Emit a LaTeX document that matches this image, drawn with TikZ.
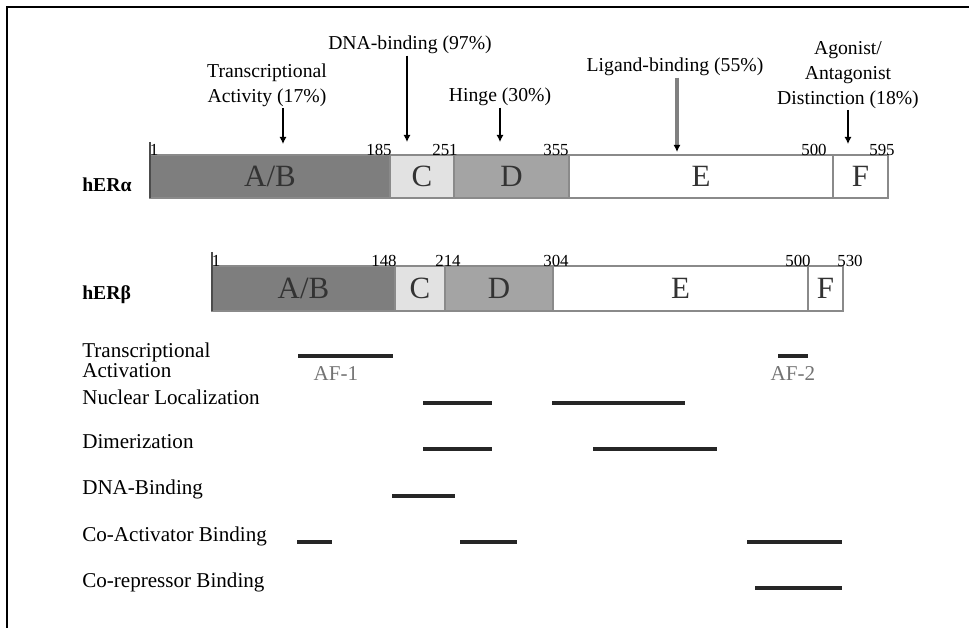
\documentclass[tikz,border=0pt]{standalone}
\usepackage{fontspec}
\setmainfont{Liberation Serif}
\usetikzlibrary{arrows.meta, positioning}

\definecolor{segAB}{HTML}{7E7E7E}
\definecolor{segC}{HTML}{E2E2E2}
\definecolor{segD}{HTML}{A4A4A4}
\definecolor{barEdge}{HTML}{8A8A8A}

\tikzset{
	seg/.style = {draw = barEdge, line width = 1.3pt},
	segText/.style = {font = \fontsize{22}{22}\selectfont, text = black!80},
	resno/.style = {font = \fontsize{12}{12}\selectfont, inner sep = 1pt, anchor = south},
	gene/.style = {font = \bfseries\fontsize{14}{14}\selectfont, anchor = west, inner sep = 0pt},
	note/.style = {font = \fontsize{14}{17.5}\selectfont, align = center, inner sep = 1pt},
	rowText/.style = {font = \fontsize{15}{14}\selectfont, align = left, anchor = west, inner sep = 0pt},
	afText/.style = {font = \fontsize{15}{15}\selectfont, text = black!55, inner sep = 0pt},
	region/.style = {line width = 3.3pt, black!85},
	pointer/.style = {-{Latex[length = 5pt, width = 5pt, color = black]}, line width = 0.8pt},
}

\begin{document}
\begin{tikzpicture}[x = 0.025cm, y = -0.025cm]
	\useasboundingbox (0,0) rectangle (969,628);
	\draw [line width = 1.6pt] (7,628) -- (7,7) -- (969,7);

	% hER alpha
	\node [gene] (alpha) at (82,185) {hERα};
	\foreach \xa/\xb/\col/\nm/\lab in {150/390/segAB/aAB/{A/B}, 390/454/segC/aC/C, 454/569/segD/aD/D, 569/833/white/aE/E, 833/888/white/aF/F}
		\draw [seg, fill = \col] (\xa,155) rectangle node[segText] (\nm) {\lab} (\xb,198);
	\draw [line width = 1.3pt, black!70] (150,142) -- (150,198);
	\foreach \x/\t in {154/1, 379/185, 445/251, 556/355, 814/500, 882/595}
		\node [resno] (na\t) at (\x,157) {\t};

	% domain functions
	\node [note] (actA) at (267,85) {Transcriptional\\Activity (17\%)};
	\coordinate (pAct) at (283,144);
	\draw [pointer] (actA.south -| pAct) -- (pAct);

	\node [note] (dnaA) at (410,45) {DNA-binding (97\%)};
	\coordinate (pDna) at (407,142);
	\draw [pointer] (dnaA.south -| pDna) -- (pDna);

	\node [note] (hingeA) at (500,97) {Hinge (30\%)};
	\coordinate (pHinge) at (500,142);
	\draw [pointer] (hingeA.south -| pHinge) -- (pHinge);

	\node [note] (ligA) at (675,67) {Ligand-binding (55\%)};
	\coordinate (pLig) at (677,152);
	\draw [pointer, line width = 2.2pt, draw = black!50] (ligA.south -| pLig) -- (pLig);

	\node [note] (agoA) at (848,75) {Agonist/\\Antagonist\\Distinction (18\%)};
	\coordinate (pAgo) at (848,144);
	\draw [pointer] (agoA.south -| pAgo) -- (pAgo);

	% hER beta
	\node [gene] (beta) at (82,295) {hERβ};
	\foreach \xa/\xb/\col/\nm/\lab in {212/395/segAB/bAB/{A/B}, 395/445/segC/bC/C, 445/553/segD/bD/D, 553/808/white/bE/E, 808/843/white/bF/F}
		\draw [seg, fill = \col] (\xa,266) rectangle node[segText] (\nm) {\lab} (\xb,311);
	\draw [line width = 1.3pt, black!70] (212,252) -- (212,311);
	\foreach \x/\t in {216/1, 384/148, 448/214, 556/304, 798/500, 850/530}
		\node [resno] (nb\t) at (\x,268) {\t};

	% regions
	\node [rowText] (rAct) at (82,360) {Transcriptional\\Activation};
	\draw [region] (298,356) -- (393,356);
	\node [afText] (af1) at (336,374) {AF-1};
	\draw [region] (778,356) -- (808,356);
	\node [afText] (af2) at (793,374) {AF-2};

	\node [rowText] (rNuc) at (82,397) {Nuclear Localization};
	\draw [region] (423,403) -- (492,403);
	\draw [region] (552,403) -- (685,403);

	\node [rowText] (rDim) at (82,442) {Dimerization};
	\draw [region] (423,449) -- (492,449);
	\draw [region] (593,449) -- (717,449);

	\node [rowText] (rDna) at (82,489) {DNA-Binding};
	\draw [region] (392,496) -- (455,496);

	\node [rowText] (rCoA) at (82,536) {Co-Activator Binding};
	\draw [region] (297,542) -- (332,542);
	\draw [region] (460,542) -- (517,542);
	\draw [region] (747,542) -- (842,542);

	\node [rowText] (rCoR) at (82,582) {Co-repressor Binding};
	\draw [region] (755,588) -- (842,588);
\end{tikzpicture}
\end{document}
